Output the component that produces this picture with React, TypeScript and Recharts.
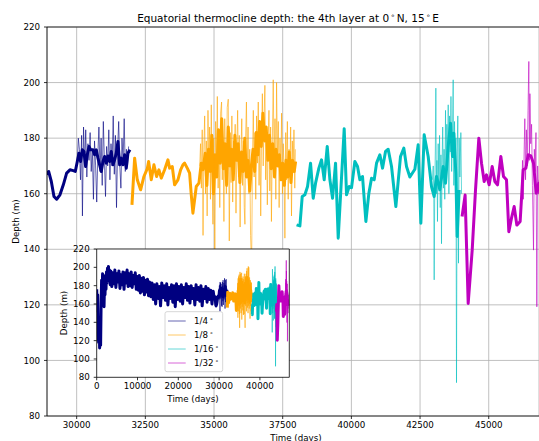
import React from 'react';
import { ComposedChart, Line, XAxis, YAxis, CartesianGrid, ReferenceLine } from 'recharts';

// ---------- data: [time (days), depth (m)] ----------
const NAVY_THICK: [number, number][] = [
  [0,176],[120,152],[240,170],[360,128],[480,118],[600,142],[720,112],[840,125],[960,115],[1080,160],
  [1200,186],[1320,168],[1440,193],[1560,160],[1680,189],[1800,157],[1920,182],[2040,170],[2160,191],[2280,176],
  [2400,195],[2520,183],[2640,199],[2760,186],[2880,201],[3000,188],[3150,197],[3300,181],
  [3450,196],[3700,179],[3950,194],[4200,182],[4450,197],[4700,178],[4950,193],[5200,184],[5450,196],[5700,177],
  [5950,192],[6200,181],[6450,195],[6700,176],[6950,194],[7200,183],[7450,197],[7700,179],[7950,193],[8200,180],
  [8450,195],[8700,178],[8950,191],[9200,182],[9450,194],[9700,176],[9950,190],
  [10200,175],[10450,191],[10700,172],[10950,188],[11200,174],[11450,189],[11700,170],[11950,186],[12200,173],[12450,187],
  [12700,169],[12950,184],
  [13250,168],[13550,183],[13850,165],[14150,181],[14450,160],[14750,182],[15050,166],[15350,179],[15650,158],[15950,183],
  [16250,167],[16550,180],[16850,164],[17150,182],[17450,159],[17750,178],[18050,166],[18350,181],[18650,162],[18950,180],
  [19250,157],[19550,182],[19850,165],[20150,179],[20450,163],[20750,181],[21050,160],[21350,178],[21650,167],[21950,182],
  [22250,164],[22550,179],[22850,161],[23150,180],[23450,166],[23750,177],[24050,159],[24350,181],[24650,165],[24950,178],
  [25250,163],[25550,180],[25850,158],[26150,176],[26450,166],[26750,179],[27050,162],[27350,177],[27650,165],[27950,175],
  [28250,160],[28550,174],[28800,166],
  [28980,168.0],[29077,164.4],[29174,159.0],[29271,158.0],[29392,159.6],[29514,163.2],[29635,167.4],[29756,168.6],[29877,168.3],[29950,168.0],
  [30023,171.6],[30084,174.6],[30144,171.6],[30205,175.8],[30266,175.2],[30326,169.8],[30387,174.0],[30448,177.0],[30508,175.8],[30593,175.8],
  [30654,174.0],[30714,175.8],[30775,172.8],[30836,170.4],[30896,168.0],[30957,171.6],[31018,173.4],[31078,171.0],[31139,173.6],[31200,171.6],
  [31260,175.2],[31321,170.4],[31382,172.2],[31442,174.6],[31503,178.8],[31564,170.4],[31624,172.8],[31685,170.4],[31746,174.0],[31806,169.2],
  [31867,174.6],[31940,175.8],
];

const NAVY_THIN: [number, number][] = [
  [30020,171],[30060,180],[30100,176],[30140,165],[30180,181],[30210,152],[30250,184],[30290,170],[30330,183],[30370,166],
  [30410,178],[30450,172],[30490,182],[30530,168],[30570,176],[30610,158],[30650,179],[30690,170],[30730,157],[30770,174],
  [30810,184],[30850,168],[30890,180],[30930,163],[30970,186],[31010,172],[31050,159],[31090,177],[31130,170],[31170,183],
  [31210,165],[31250,178],[31290,170],[31330,188],[31370,167],[31410,181],[31450,155],[31490,176],[31530,186],[31570,170],
  [31610,162],[31650,180],[31690,172],[31730,187],[31770,168],[31810,176],[31850,170],[31890,177],
];

const ORANGE_THICK: [number, number][] = [
  [32013,156],[32110,172.8],[32207,165],[32328,161.4],[32449,166.2],[32571,169],[32619,171.6],[32716,165],[32813,170.4],[32910,166.2],
  [32995,168.6],[33080,165.6],[33201,168.6],[33323,172.2],[33383,169.2],[33480,169.8],[33565,163.2],[33686,165],[33784,168.6],[33868,170.4],
  [33929,171],[34026,169.2],[34111,167.4],[34172,159.6],[34232,153],[34354,162.6],[34451,163.8],[34536,171],[34596,168.6],[34681,174.6],
  [34740,163],[34800,176],[34860,168],[34920,181],[34980,160],[35040,174],[35100,166],[35160,183],[35220,171],[35280,187],
  [35340,169],[35400,178],[35460,163],[35520,184],[35580,170],[35640,176],[35700,165],[35760,181],[35820,172],[35880,178],
  [35940,164],[36000,175],[36060,168],[36120,180],[36180,166],[36240,172],[36300,161],[36360,170],[36420,176],[36480,168],
  [36540,182],[36600,174],[36660,186],[36720,177],[36780,189],[36840,179],[36900,184],[36960,172],[37020,181],[37080,169],
  [37140,178],[37200,166],[37260,176],[37320,170],[37380,174],[37440,165],[37500,171],[37560,163],[37620,172],[37680,166],
  [37740,175],[37800,164],[37860,172],[37920,168],[37970,171.6],
];

const ORANGE_THIN: [number, number][] = [
  [34480,170],[34510,178],[34540,162],[34570,183],[34600,145],[34630,176],[34660,188],[34690,160],[34720,179],[34750,152],
  [34780,190],[34810,168],[34840,184],[34870,158],[34900,192],[34930,166],[34960,149],[34990,180],[35030,134],[35060,186],
  [35090,170],[35120,195],[35150,162],[35180,183],[35210,155],[35240,189],[35275,193],[35300,165],[35330,178],[35360,150],
  [35390,187],[35420,172],[35450,160],[35480,191],[35518,194],[35540,168],[35555,143],[35590,182],[35620,164],[35650,188],
  [35680,157],[35710,179],[35740,170],[35770,185],[35800,153],[35830,176],[35860,190],[35890,166],[35920,181],[35950,148],
  [35980,174],[36010,187],[36040,163],[36070,179],[36100,155],[36125,149],[36150,180],[36180,193],[36210,168],[36240,184],
  [36270,160],[36300,176],[36330,145],[36368,134],[36400,172],[36430,190],[36460,166],[36490,182],[36520,158],[36550,188],
  [36580,171],[36610,193],[36640,163],[36670,185],[36700,152],[36730,179],[36760,196],[36790,170],[36820,187],[36852,199],
  [36880,165],[36910,183],[36940,156],[36970,178],[37000,190],[37030,161],[37060,184],[37090,150],[37120,176],[37155,201],
  [37190,169],[37220,187],[37250,158],[37277,200],[37310,172],[37340,186],[37370,155],[37400,180],[37430,167],[37460,189],
  [37490,160],[37520,178],[37550,170],[37580,144],[37610,182],[37640,165],[37670,186],[37700,158],[37730,176],[37760,168],
  [37790,184],[37820,152],[37850,179],[37880,170],[37910,183],[37940,162],[37960,176],
];

const CYAN_THICK: [number, number][] = [
  [38005,148.8],[38126,148.4],[38211,159],[38308,159.6],[38405,162.6],[38514,171],[38611,158.4],[38696,163.8],[38817,169.2],[38914,172.2],
  [39011,165],[39121,177],[39218,165],[39315,158.4],[39424,171],[39521,144],[39739,183.4],[39824,159.6],[39921,162.6],[40006,162.2],
  [40127,171.6],[40224,169.8],[40309,165],[40406,166.2],[40528,150],[40637,160.2],[40734,165.6],[40831,165],[40916,171],[41037,174],
  [41134,169.2],[41243,175.2],[41340,176],[41462,169.8],[41619,155.4],[41789,173.4],[41910,176.4],[42007,169.8],[42129,166],[42311,168.8],
  [42432,177.6],[42529,149.4],[42650,181.2],[42796,173.4],[42917,162.6],[43014,159],[43099,166.2],[43220,161.4],[43342,169.8],[43427,163.8],
  [43524,177],[43609,185.4],[43681,173.4],[43730,181.8],[43803,167.4],[43851,144.6],[43924,161.4],
];

const CYAN_THIN: [number, number][] = [
  [42950,165],[42980,170],[43000,158],[43014,129],[43035,162],[43055,175],[43075,198],[43095,160],[43115,172],[43135,150],
  [43160,178],[43185,163],[43210,181],[43235,155],[43260,174],[43281,142],[43300,170],[43325,184],[43350,162],[43375,176],
  [43400,158],[43427,190],[43450,166],[43475,185],[43500,170],[43525,192],[43550,160],[43575,188],[43600,175],[43625,195],
  [43650,168],[43675,180],[43706,201],[43730,163],[43755,186],[43780,170],[43805,180],[43827,92],[43850,175],[43875,188],
  [43900,135],[43925,180],[43950,166],[43985,182],[44010,160],
];

const MAGENTA_THICK: [number, number][] = [
  [44030,151.8],[44140,159.5],[44252,120.5],[44398,139.7],[44519,161.4],[44640,180],[44737,171],[44834,164.4],[44919,166.8],[45016,163.2],
  [45126,169.8],[45223,164.4],[45320,163.2],[45441,173.4],[45538,166.2],[45647,165],[45732,146.3],[45829,151.2],[45926,155.4],[46023,148.7],
  [46144,150],[46254,168.6],[46351,169.2],[46436,174],[46533,173.6],[46630,171],[46727,160.2],[46824,163.8],[46900,158],
];

const MAGENTA_THIN: [number, number][] = [
  [46200,160],[46230,172],[46260,158],[46290,176],[46314,187],[46340,165],[46370,183],[46400,170],[46430,190],[46460,207.6],
  [46480,172],[46500,196],[46530,178],[46560,185],[46590,163],[46630,139.7],[46660,176],[46690,168],[46720,182],[46751,119.3],
  [46780,170],[46810,160],[46840,165],[46880,150],[46920,170],[46960,155],
];

const MAIN_X_TICKS = [30000, 32500, 35000, 37500, 40000, 42500, 45000];
const Y_TICKS = [80, 100, 120, 140, 160, 180, 200, 220];
const INSET_X_TICKS = [0, 10000, 20000, 30000, 40000];
const LEGEND_LABELS = ['1/4', '1/8', '1/16', '1/32'];
const TITLE_PARTS = ['Equatorial thermocline depth: the 4th layer at 0', 'N, 15', 'E'];

// ---------- styling ----------
const FONT = '"DejaVu Sans", Verdana, sans-serif';
const COLORS = ['#000080', '#FFA500', '#00BFBF', '#BF00BF'];
const TICK_FS = 8.7;

const toPts = (a: [number, number][]) => a.map(([t, d]) => ({ t, d }));

const SERIES = [
  { thick: toPts(NAVY_THICK), thin: toPts(NAVY_THIN), color: COLORS[0] },
  { thick: toPts(ORANGE_THICK), thin: toPts(ORANGE_THIN), color: COLORS[1] },
  { thick: toPts(CYAN_THICK), thin: toPts(CYAN_THIN), color: COLORS[2] },
  { thick: toPts(MAGENTA_THICK), thin: toPts(MAGENTA_THIN), color: COLORS[3] },
];

const tickStyle = { fontSize: TICK_FS, fill: '#000', fontFamily: FONT };

function renderLines(prefix: string) {
  const out: React.ReactNode[] = [];
  SERIES.forEach((s, i) => {
    out.push(
      <Line key={`${prefix}k${i}`} data={s.thick} dataKey="d" type="linear" stroke={s.color}
        strokeWidth={3} strokeLinejoin="round" dot={false} activeDot={false} isAnimationActive={false} />
    );
    out.push(
      <Line key={`${prefix}n${i}`} data={s.thin} dataKey="d" type="linear" stroke={s.color}
        strokeOpacity={0.6} strokeWidth={1} dot={false} activeDot={false} isAnimationActive={false} />
    );
  });
  return out;
}

// text segments joined by a raised small degree ring (matplotlib $^\circ$)
function degText(parts: string[], fs: number) {
  const nodes: React.ReactNode[] = [];
  const up = fs * 0.38;
  parts.forEach((p, i) => {
    if (i > 0) {
      nodes.push(<tspan key={`d${i}`} dx={1.5} dy={-up} fontSize={fs * 0.7}>∘</tspan>);
      nodes.push(<tspan key={`p${i}`} dx={1.5} dy={up}>{p}</tspan>);
    } else {
      nodes.push(<tspan key={`p${i}`}>{p}</tspan>);
    }
  });
  return nodes;
}

export default function App() {
  return (
    <div style={{ position: 'absolute', left: 0, top: 0, width: 539, height: 441, overflow: 'hidden', background: '#fff', fontFamily: FONT }}>
      {/* main axes */}
      <div style={{ position: 'absolute', left: 0, top: 0 }}>
        <ComposedChart width={539} height={441} margin={{ top: 27, right: 0, bottom: 0, left: 0 }}>
          <CartesianGrid stroke="#b0b0b0" strokeWidth={0.8} />
          <XAxis type="number" dataKey="t" domain={[28920, 46830]} allowDataOverflow ticks={MAIN_X_TICKS}
            interval={0} height={25} tickSize={3} tickMargin={3} stroke="#000" strokeWidth={0.8} tick={tickStyle} />
          <YAxis type="number" domain={[80, 220]} allowDataOverflow ticks={Y_TICKS} interval={0}
            width={47} tickSize={3} tickMargin={4} stroke="#000" strokeWidth={0.8} tick={tickStyle} />
          <ReferenceLine y={220} stroke="#000" strokeWidth={0.8} />
          {renderLines('m')}
        </ComposedChart>
      </div>

      {/* inset background */}
      <div style={{ position: 'absolute', left: 96.7, top: 249, width: 192.6, height: 128.3, background: '#fff' }} />

      {/* inset axes */}
      <div style={{ position: 'absolute', left: 40, top: 240 }}>
        <ComposedChart width={260} height={180} margin={{ top: 9, right: 10.7, bottom: 0, left: 0 }}>
          <XAxis type="number" dataKey="t" domain={[0, 47200]} allowDataOverflow ticks={INSET_X_TICKS}
            interval={0} height={42.7} tickSize={3} tickMargin={3} stroke="#000" strokeWidth={0.8} tick={tickStyle} />
          <YAxis type="number" domain={[80, 220]} allowDataOverflow ticks={Y_TICKS} interval={0}
            width={56.7} tickSize={3} tickMargin={4} stroke="#000" strokeWidth={0.8} tick={tickStyle} />
          {renderLines('i')}
          <ReferenceLine y={220} stroke="#000" strokeWidth={0.8} />
          <ReferenceLine x={47200} stroke="#000" strokeWidth={0.8} />
        </ComposedChart>
      </div>

      {/* text overlay */}
      <svg width={539} height={441} style={{ position: 'absolute', left: 0, top: 0, pointerEvents: 'none' }}
        fontFamily={FONT} fill="#000">
        <text x={288} y={21.5} fontSize={10.5} textAnchor="middle">
          {degText(TITLE_PARTS, 10.5)}
        </text>
        <text x={296} y={440.5} fontSize={TICK_FS} textAnchor="middle">Time (days)</text>
        <text transform="translate(18.5,221.5) rotate(-90)" fontSize={TICK_FS} textAnchor="middle">Depth (m)</text>
        <text x={193} y={402} fontSize={TICK_FS} textAnchor="middle">Time (days)</text>
        <text transform="translate(66.5,313) rotate(-90)" fontSize={TICK_FS} textAnchor="middle">Depth (m)</text>

        {/* legend */}
        <rect x={165} y={311.7} width={57.7} height={60} rx={2} ry={2} fill="#fff" fillOpacity={0.8} stroke="#cccccc" strokeWidth={0.8} />
        {LEGEND_LABELS.map((lab, i) => {
          const y = 321 + i * 14;
          return (
            <g key={lab}>
              <line x1={168} x2={185.7} y1={y} y2={y} stroke={COLORS[i]} strokeOpacity={0.6} strokeWidth={1} />
              <text x={194} y={y + 3} fontSize={TICK_FS}>
                {lab}
                <tspan dx={1.5} dy={-TICK_FS * 0.38} fontSize={TICK_FS * 0.7}>∘</tspan>
              </text>
            </g>
          );
        })}
      </svg>
    </div>
  );
}
